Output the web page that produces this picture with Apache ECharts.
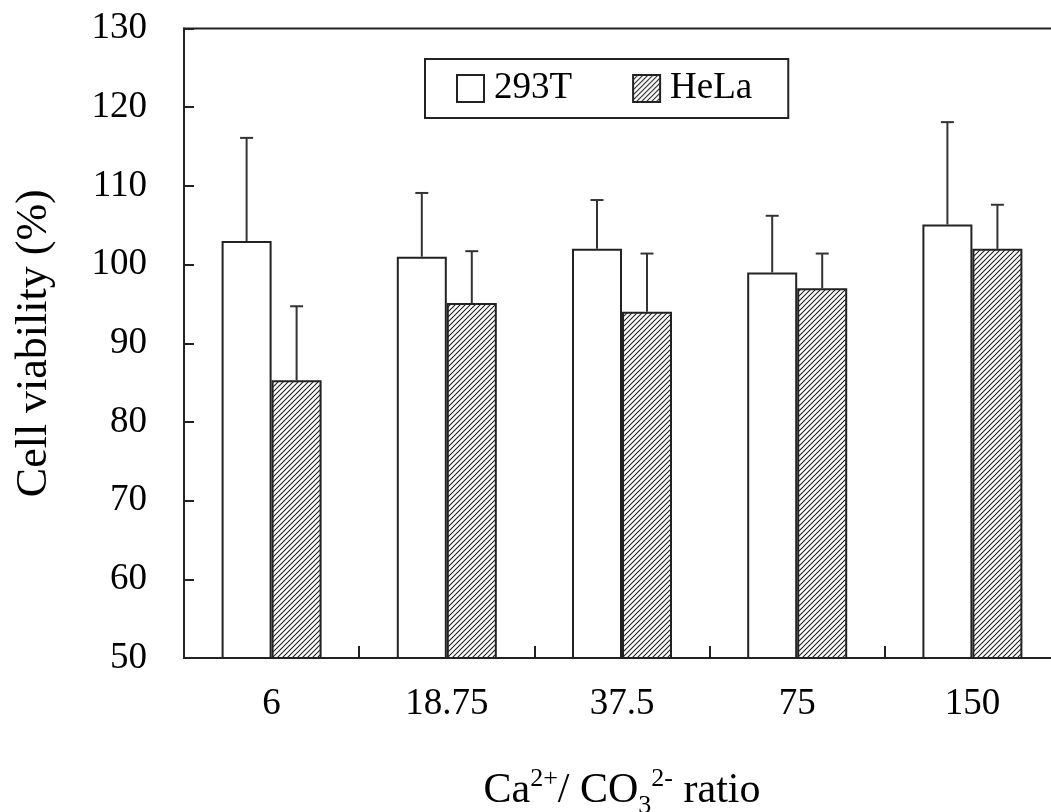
<!DOCTYPE html>
<html>
<head>
<meta charset="utf-8">
<script src="https://cdn.jsdelivr.net/npm/echarts@6/dist/echarts.min.js"></script>
<style>html,body{margin:0;padding:0;background:#fff;overflow:hidden}#c{width:1051px;height:812px}</style>
</head>
<body>
<div id="c"></div>
<script>
// ---- data ----
const categories = ['6', '18.75', '37.5', '75', '150'];
const v293T   = [103.0, 101.0, 102.0, 99.0, 105.1];
const err293T = [13.1, 8.1, 6.2, 7.2, 13.0];
const vHeLa   = [85.3, 95.1, 94.0, 97.0, 102.0];
const errHeLa = [9.4, 6.6, 7.4, 4.4, 5.6];

// ---- styling ----
const FONT = '"Liberation Serif", "Times New Roman", serif';
const BAR_W = 50;

function hatch() {
  const s = 5;
  const c = document.createElement('canvas');
  c.width = s; c.height = s;
  const g = c.getContext('2d');
  g.fillStyle = '#fff'; g.fillRect(0, 0, s, s);
  g.strokeStyle = '#222'; g.lineWidth = 1.1;
  g.beginPath();
  g.moveTo(-1, s + 1); g.lineTo(s + 1, -1);
  g.moveTo(-1, 1); g.lineTo(1, -1);
  g.moveTo(s - 1, s + 1); g.lineTo(s + 1, s - 1);
  g.stroke();
  return c;
}
const hatchPattern = { image: hatch(), repeat: 'repeat' };

function errSeries(vals, errs, side) {
  return {
    type: 'custom',
    silent: true,
    z: 1,
    data: vals.map((v, i) => [i, v, v + errs[i]]),
    encode: { x: 0, y: [1, 2] },
    renderItem: function (params, api) {
      const base = api.coord([api.value(0), api.value(1)]);
      const top = api.coord([api.value(0), api.value(2)]);
      const x = base[0] + side * BAR_W / 2;
      const cap = 6.5;
      return {
        type: 'group',
        children: [
          { type: 'line', shape: { x1: x, y1: base[1], x2: x, y2: top[1] }, style: { stroke: '#333', lineWidth: 2 } },
          { type: 'line', shape: { x1: x - cap, y1: top[1], x2: x + cap, y2: top[1] }, style: { stroke: '#333', lineWidth: 2 } }
        ]
      };
    }
  };
}

const chart = echarts.init(document.getElementById('c'), null, { renderer: 'canvas' });
chart.setOption({
  backgroundColor: '#fff',
  animation: false,
  textStyle: { fontFamily: FONT, color: '#000' },
  grid: {
    left: 184, top: 28.5, width: 876, bottom: 154,
    outerBoundsMode: 'none', containLabel: false,
    show: true, borderColor: '#222', borderWidth: 2, backgroundColor: 'transparent'
  },
  legend: {
    data: ['293T', 'HeLa'],
    left: 425, top: 59,
    orient: 'horizontal',
    borderColor: '#222', borderWidth: 2,
    padding: [11, 36, 11, 31],
    itemWidth: 27, itemHeight: 27, itemGap: 60,
    icon: 'rect',
    textStyle: { fontFamily: FONT, fontSize: 37, color: '#000', padding: [0, 0, 0, 5] }
  },
  xAxis: {
    type: 'category',
    data: categories,
    name: '{n|Ca}{sup|2+}{n|/ CO}{sub|3}{sup|2-}{n| ratio}',
    nameLocation: 'middle',
    nameGap: 108,
    nameTextStyle: {
      rich: {
        n: { fontFamily: FONT, fontSize: 42, color: '#000', lineHeight: 46, verticalAlign: 'bottom' },
        sup: { fontFamily: FONT, fontSize: 26, color: '#000', lineHeight: 46, verticalAlign: 'top', padding: [0, 0, 0, 0] },
        sub: { fontFamily: FONT, fontSize: 26, color: '#000', lineHeight: 46, verticalAlign: 'bottom', padding: [0, 0, -7, 0] }
      }
    },
    axisLine: { lineStyle: { color: '#222', width: 2 } },
    axisTick: { show: true, inside: true, length: 12, alignWithLabel: false, lineStyle: { color: '#222', width: 2 } },
    axisLabel: { fontFamily: FONT, fontSize: 37, color: '#000', margin: 28 },
    splitLine: { show: false }
  },
  yAxis: {
    type: 'value',
    min: 50, max: 130, interval: 10,
    name: 'Cell viability (%)',
    nameLocation: 'middle',
    nameGap: 128,
    nameRotate: 90,
    nameTextStyle: { fontFamily: FONT, fontSize: 44, color: '#000' },
    axisLine: { show: true, lineStyle: { color: '#222', width: 2 } },
    axisTick: { show: true, inside: true, length: 10, lineStyle: { color: '#222', width: 2 } },
    axisLabel: { fontFamily: FONT, fontSize: 37, color: '#000', margin: 37 },
    splitLine: { show: false }
  },
  series: [
    {
      name: '293T', type: 'bar', data: v293T, barWidth: BAR_W, barGap: '0%', z: 2,
      itemStyle: { color: '#fff', borderColor: '#222', borderWidth: 2 }
    },
    {
      name: 'HeLa', type: 'bar', data: vHeLa, barWidth: BAR_W, barGap: '0%', z: 2,
      itemStyle: { color: hatchPattern, borderColor: '#222', borderWidth: 2 }
    },
    errSeries(v293T, err293T, -1),
    errSeries(vHeLa, errHeLa, 1)
  ]
});
</script>
</body>
</html>
